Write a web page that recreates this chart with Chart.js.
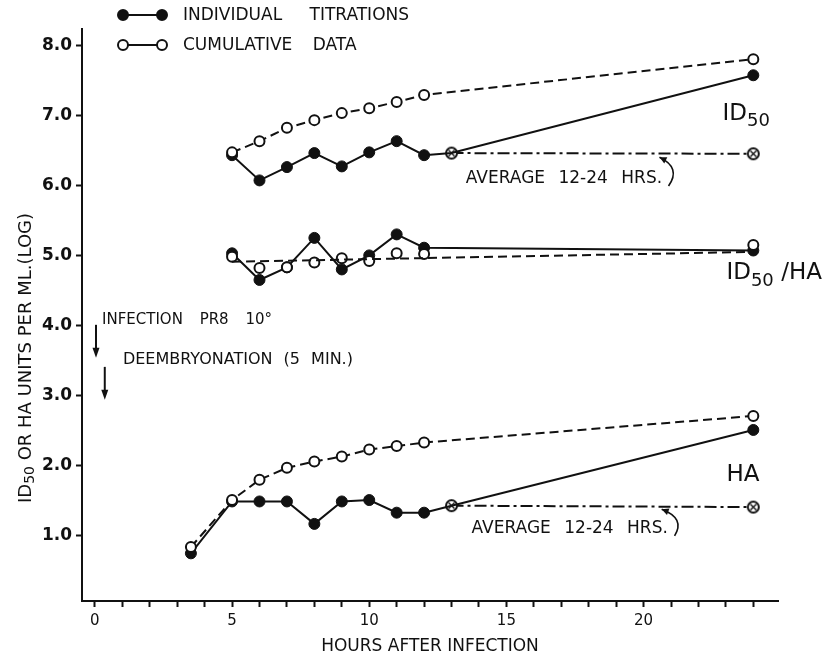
<!DOCTYPE html>
<html><head><meta charset="utf-8">
<script src="https://cdn.jsdelivr.net/npm/chart.js@4/dist/chart.umd.min.js"></script>
<style>html,body{margin:0;padding:0;background:#fff}#wrap{width:830px;height:657px}</style>
</head><body><div id="wrap"><canvas id="c" width="830" height="657"></canvas></div>
<script>
const FONT = "'DejaVu Sans', sans-serif";
const INK = '#111';

// ---- data (hours after infection, log units per ml) ----
const id50IndHours   = [5, 6, 7, 8, 9, 10, 11, 12, 13, 24];
const id50IndValues  = [6.43, 6.07, 6.26, 6.46, 6.27, 6.47, 6.63, 6.43, 6.46, 7.57];
const id50CumHours   = [5, 6, 7, 8, 9, 10, 11, 12, 24];
const id50CumValues  = [6.47, 6.63, 6.82, 6.93, 7.03, 7.10, 7.19, 7.29, 7.80];
const id50AvgHours   = [13, 24];
const id50AvgValues  = [6.46, 6.45];

const ratioIndHours  = [5, 6, 7, 8, 9, 10, 11, 12, 24];
const ratioIndValues = [5.03, 4.65, 4.83, 5.25, 4.80, 5.00, 5.30, 5.11, 5.07];
const ratioCumHours  = [5, 6, 7, 8, 9, 10, 11, 12, 24];
const ratioCumValues = [4.98, 4.82, 4.83, 4.90, 4.96, 4.92, 5.03, 5.02, 5.15];
const ratioTrendHours  = [5, 24];
const ratioTrendValues = [4.91, 5.05];

const haIndHours     = [3.5, 5, 6, 7, 8, 9, 10, 11, 12, 13, 24];
const haIndValues    = [0.75, 1.49, 1.49, 1.49, 1.17, 1.49, 1.51, 1.33, 1.33, 1.43, 2.51];
const haCumHours     = [3.5, 5, 6, 7, 8, 9, 10, 11, 12, 24];
const haCumValues    = [0.84, 1.51, 1.80, 1.97, 2.06, 2.13, 2.23, 2.28, 2.33, 2.71];
const haAvgHours     = [13, 24];
const haAvgValues    = [1.43, 1.41];

const xTickLabels = [0, 5, 10, 15, 20];
const yTickLabels = ['1.0', '2.0', '3.0', '4.0', '5.0', '6.0', '7.0', '8.0'];

const pts = (hs, vs) => hs.map((h, i) => ({x: h, y: vs[i]}));

// crossed-circle marker for the 12-24 hr average points
const cross = document.createElement('canvas');
cross.width = 15; cross.height = 15;
(function(){
  const g = cross.getContext('2d');
  g.beginPath(); g.arc(7.5, 7.5, 5.5, 0, Math.PI * 2);
  g.fillStyle = '#fff'; g.fill();
  g.lineWidth = 2; g.strokeStyle = INK; g.stroke();
  g.lineWidth = 1.4;
  g.beginPath(); g.moveTo(4.5, 4.5); g.lineTo(10.5, 10.5); g.moveTo(10.5, 4.5); g.lineTo(4.5, 10.5); g.stroke();
})();

const openStyle = {borderColor: INK, borderWidth: 2, borderDash: [9, 5], pointStyle: 'circle',
  pointRadius: 5, pointBorderWidth: 2, pointBackgroundColor: '#fff', pointBorderColor: INK, tension: 0};
const hideAt13 = c => (c.raw && c.raw.x === 13) ? 0 : 5.5;
const filledStyle = {borderColor: INK, borderWidth: 2, pointStyle: 'circle', pointRadius: hideAt13,
  pointBorderWidth: 1, pointBackgroundColor: INK, pointBorderColor: INK, tension: 0};
const avgStyle = {borderColor: INK, borderWidth: 2, borderDash: [12, 4, 3, 4], pointStyle: cross,
  pointRadius: 6, tension: 0};

const datasets = [
  Object.assign({label: 'ID50 cumulative', data: pts(id50CumHours, id50CumValues)}, openStyle),
  Object.assign({label: 'HA cumulative', data: pts(haCumHours, haCumValues)}, openStyle),
  Object.assign({label: 'ID50/HA cumulative trend', data: pts(ratioTrendHours, ratioTrendValues)}, openStyle, {pointRadius: 0}),
  Object.assign({label: 'ID50/HA cumulative', data: pts(ratioCumHours, ratioCumValues)}, openStyle, {showLine: false}),
  Object.assign({label: 'ID50 individual', data: pts(id50IndHours, id50IndValues)}, filledStyle),
  Object.assign({label: 'ID50/HA individual', data: pts(ratioIndHours, ratioIndValues)}, filledStyle),
  Object.assign({label: 'HA individual', data: pts(haIndHours, haIndValues)}, filledStyle),
  Object.assign({label: 'ID50 average 12-24 hrs', data: pts(id50AvgHours, id50AvgValues)}, avgStyle),
  Object.assign({label: 'HA average 12-24 hrs', data: pts(haAvgHours, haAvgValues)}, avgStyle)
];

function drawParts(ctx, x0, y0, parts) {
  let x = x0;
  for (const p of parts) {
    ctx.font = `${p.s}px ${FONT}`;
    ctx.wordSpacing = (p.ws || 0) + 'px';
    ctx.fillText(p.t, x, y0 + (p.dy || 0));
    x += ctx.measureText(p.t).width;
  }
  ctx.wordSpacing = '0px';
}
function partsWidth(ctx, parts) {
  let w = 0;
  for (const p of parts) {
    ctx.font = `${p.s}px ${FONT}`;
    ctx.wordSpacing = (p.ws || 0) + 'px';
    w += ctx.measureText(p.t).width;
  }
  ctx.wordSpacing = '0px';
  return w;
}
function arrowHead(ctx, x, y, fx, fy, len, half) {
  const a = Math.atan2(y - fy, x - fx);
  ctx.beginPath();
  ctx.moveTo(x, y);
  ctx.lineTo(x - len * Math.cos(a) + half * Math.sin(a), y - len * Math.sin(a) - half * Math.cos(a));
  ctx.lineTo(x - len * Math.cos(a) - half * Math.sin(a), y - len * Math.sin(a) + half * Math.cos(a));
  ctx.closePath(); ctx.fill();
}

// annotation positions in data units (hours, log units)
const notes = {
  avgText: [[13.52, 6.10], [13.73, 1.11]],
  curlArrows: [
    [[20.91, 5.99], [21.38, 6.25], [20.58, 6.40]],
    [[21.13, 1.00], [21.53, 1.25], [20.66, 1.38]]
  ],
  id50Label: [22.88, 7.02],
  ratioLabel: [23.02, 4.75],
  haLabel: [23.02, 1.87],
  infection: [0.26, 4.08],
  deembryo: [1.02, 3.51],
  arrowInfection: [0.04, 4.01, 3.54],
  arrowDeembryo: [0.36, 3.41, 2.94]
};

const annot = {
  id: 'annot',
  afterDraw(chart) {
    const {ctx, scales: {x, y}} = chart;
    const X = v => x.getPixelForValue(v), Y = v => y.getPixelForValue(v);
    ctx.save();
    ctx.fillStyle = INK; ctx.strokeStyle = INK;
    ctx.textBaseline = 'middle'; ctx.textAlign = 'left';

    // legend
    const legendRows = [{y: 15, text: 'INDIVIDUAL TITRATIONS', ws: 22, fill: true},
                        {y: 45, text: 'CUMULATIVE DATA', ws: 15, fill: false}];
    for (const r of legendRows) {
      ctx.lineWidth = 2; ctx.setLineDash([]);
      ctx.beginPath(); ctx.moveTo(123, r.y); ctx.lineTo(162, r.y); ctx.stroke();
      for (const cx of [123, 162]) {
        ctx.beginPath(); ctx.arc(cx, r.y, 5, 0, Math.PI * 2);
        ctx.fillStyle = r.fill ? INK : '#fff'; ctx.fill();
        ctx.stroke();
      }
      ctx.fillStyle = INK;
      drawParts(ctx, 183, r.y + 1, [{t: r.text, s: 17, ws: r.ws}]);
    }

    // y axis title (rotated)
    const yt = [{t: 'ID', s: 18}, {t: '50', s: 14, dy: 4}, {t: ' OR HA UNITS PER ML.(LOG)', s: 18, ws: 10}];
    const w = partsWidth(ctx, yt);
    ctx.save();
    ctx.translate(26, 358); ctx.rotate(-Math.PI / 2);
    drawParts(ctx, -w / 2, 0, yt);
    ctx.restore();

    // series labels
    drawParts(ctx, X(notes.id50Label[0]), Y(notes.id50Label[1]), [{t: 'ID', s: 23}, {t: '50', s: 18, dy: 8}]);
    drawParts(ctx, X(notes.ratioLabel[0]), Y(notes.ratioLabel[1]), [{t: 'ID', s: 23}, {t: '50', s: 18, dy: 8}, {t: ' /HA', s: 23}]);
    drawParts(ctx, X(notes.haLabel[0]), Y(notes.haLabel[1]), [{t: 'HA', s: 23}]);

    // average notes + curled arrows
    for (const p of notes.avgText) drawParts(ctx, X(p[0]), Y(p[1]), [{t: 'AVERAGE 12-24 HRS.', s: 17, ws: 8}]);
    ctx.lineWidth = 1.6; ctx.setLineDash([]);
    for (const a of notes.curlArrows) {
      const [s, c, e] = a.map(p => [X(p[0]), Y(p[1])]);
      ctx.beginPath(); ctx.moveTo(s[0], s[1]); ctx.quadraticCurveTo(c[0], c[1], e[0], e[1]); ctx.stroke();
      arrowHead(ctx, e[0], e[1], c[0], c[1], 7, 3.5);
    }

    // infection / deembryonation notes
    drawParts(ctx, X(notes.infection[0]), Y(notes.infection[1]), [{t: 'INFECTION PR8 10°', s: 15, ws: 12}]);
    drawParts(ctx, X(notes.deembryo[0]), Y(notes.deembryo[1]), [{t: 'DEEMBRYONATION (5 MIN.)', s: 16, ws: 6}]);
    ctx.lineWidth = 2;
    for (const a of [notes.arrowInfection, notes.arrowDeembryo]) {
      const ax = X(a[0]), y1 = Y(a[1]), y2 = Y(a[2]);
      ctx.beginPath(); ctx.moveTo(ax, y1); ctx.lineTo(ax, y2 - 6); ctx.stroke();
      arrowHead(ctx, ax, y2, ax, y1, 10, 3.5);
    }
    ctx.restore();
  }
};

new Chart(document.getElementById('c'), {
  type: 'line',
  data: {datasets},
  plugins: [annot],
  options: {
    responsive: false,
    animation: false,
    layout: {padding: {top: 29, right: 52, left: 0, bottom: 0}},
    plugins: {legend: {display: false}, tooltip: {enabled: false}},
    scales: {
      x: {
        type: 'linear', min: -0.47, max: 24.9,
        border: {display: true, color: INK, width: 2},
        grid: {drawOnChartArea: false, drawTicks: true, tickLength: 6, tickColor: INK, tickWidth: 2},
        ticks: {stepSize: 1, includeBounds: false, autoSkip: false, maxRotation: 0, color: INK, padding: 5,
          font: {family: FONT, size: 15},
          callback: v => xTickLabels.includes(v) ? String(v) : ''},
        title: {display: true, text: 'HOURS AFTER INFECTION', color: INK, font: {family: FONT, size: 17}, padding: {top: 0, bottom: 0}},
        afterFit: s => { s.height = 56; }
      },
      y: {
        type: 'linear', min: 0.07, max: 8.23,
        border: {display: true, color: INK, width: 2},
        grid: {drawOnChartArea: false, drawTicks: true, tickLength: 6, tickColor: INK, tickWidth: 2},
        ticks: {stepSize: 1, includeBounds: false, color: INK, padding: 4,
          font: {family: FONT, size: 17, weight: 'bold'},
          callback: v => yTickLabels.includes(v.toFixed(1)) ? v.toFixed(1) : ''},
        afterFit: s => { s.width = 82; }
      }
    }
  }
});
</script>
</body></html>
